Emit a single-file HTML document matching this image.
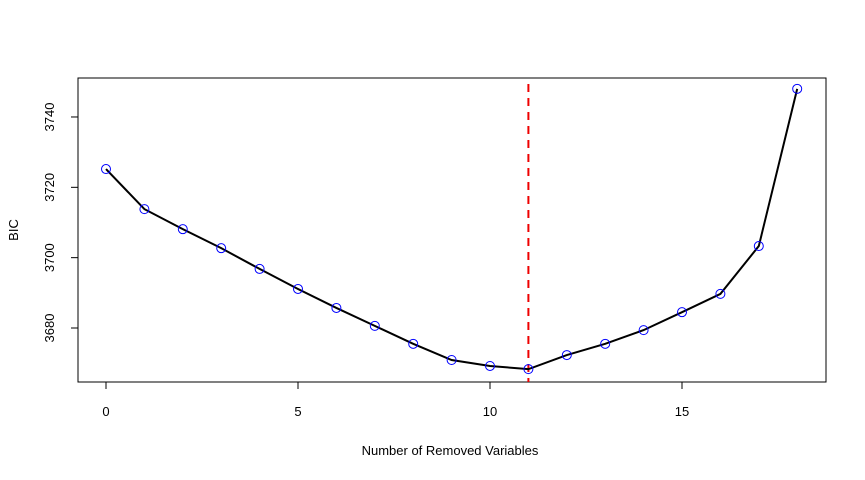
<!DOCTYPE html>
<html><head><meta charset="utf-8"><style>
body{margin:0;background:#fff}
svg{display:block;font-family:"Liberation Sans",Arial,sans-serif}
</style></head><body>
<svg id="chart" width="865" height="480">
<rect x="78" y="78" width="748" height="304" fill="none" stroke="#000" stroke-width="1"/>
<g id="xaxis"></g>
<g id="yaxis"></g>
<g id="marks"></g>
<text x="450" y="455" font-size="13" text-anchor="middle">Number of Removed Variables</text>
<text x="18" y="230" font-size="13" text-anchor="middle" transform="rotate(-90 18 230)">BIC</text>
</svg>
<script>
const removed = [0,1,2,3,4,5,6,7,8,9,10,11,12,13,14,15,16,17,18];
const bic = [3725.2,3713.8,3708.1,3702.7,3696.8,3691.1,3685.7,3680.6,3675.5,3670.9,3669.2,3668.3,3672.3,3675.5,3679.4,3684.5,3689.7,3703.3,3748.0];
const xTicks = [0,5,10,15];
const yTicks = [3680,3700,3720,3740];
const bestModel = [11];

const NS="http://www.w3.org/2000/svg";
const sx = v => 106 + v*38.4;
const sy = v => 328 - (v-3680)*3.517;
function mk(tag, attrs, parent){const e=document.createElementNS(NS,tag);for(const k in attrs)e.setAttribute(k,attrs[k]);parent.appendChild(e);return e;}
const xa=document.getElementById('xaxis'), ya=document.getElementById('yaxis'), mg=document.getElementById('marks');
mk('line',{x1:sx(xTicks[0]),x2:sx(xTicks[xTicks.length-1]),y1:382,y2:382,stroke:'#000'},xa);
xTicks.forEach(t=>{
  let tk=mk('line',{x1:sx(t),x2:sx(t),y1:382,y2:389,stroke:'#000'},xa);
  
  
  let tx=mk('text',{x:sx(t),y:416,'font-size':13,'text-anchor':'middle'},xa);tx.textContent=t;
  
  
});
mk('line',{x1:78,x2:78,y1:sy(yTicks[0]),y2:sy(yTicks[yTicks.length-1]),stroke:'#000'},ya);
yTicks.forEach(t=>{
  let tk=mk('line',{x1:71,x2:78,y1:sy(t),y2:sy(t),stroke:'#000'},ya);
  
  
  let tx=mk('text',{x:54,y:sy(t),'font-size':13,'text-anchor':'middle',transform:`rotate(-90 54 ${sy(t)})`},ya);tx.textContent=t;
  
  
});
const vl=mk('line',{x1:sx(bestModel[0]),x2:sx(bestModel[0]),y1:84,y2:382,stroke:'#e00','stroke-width':2,'stroke-dasharray':'8 6'},mg);


const pl=mk('polyline',{points:removed.map((x,i)=>sx(x)+','+sy(bic[i])).join(' '),fill:'none',stroke:'#000','stroke-width':2},mg);


removed.forEach((x,i)=>{
  const c=mk('circle',{cx:sx(x),cy:sy(bic[i]),r:4.5,fill:'none',stroke:'#00f','stroke-width':1},mg);
  
  
});
</script>
</body></html>
